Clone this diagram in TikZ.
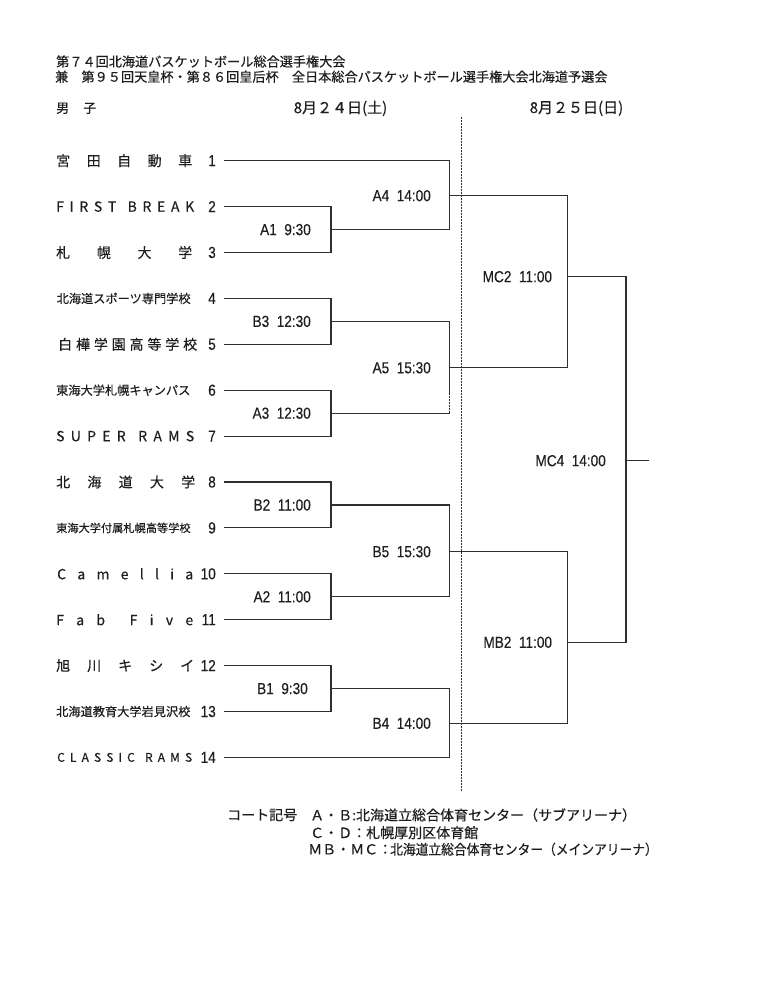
\documentclass[tikz,border=0pt]{standalone}
\usepackage{fontspec}
\usepackage{graphicx}
\setmainfont{Noto Sans CJK JP}[FakeBold=0.35]
\newfontfamily\labfont{Liberation Sans}[FakeBold=0.35]
\usetikzlibrary{calc}
\definecolor{ink}{HTML}{1e1e1e}
\definecolor{wirecol}{HTML}{303030}
\newcommand{\lbl}[1]{\scalebox{0.85}[1]{\labfont\fontsize{16}{16}\selectfont #1}}
\newcommand{\spreadname}[2]{\makebox[#1][s]{#2}}
\tikzset{
  team/.style={anchor=west, inner sep=0pt, text=ink, font=\fontsize{14}{14}\selectfont},
  smallteam/.style={anchor=west, inner sep=0pt, text=ink},
  seed/.style={anchor=east, inner sep=0pt, text=ink},
  matchlbl/.style={anchor=east, inner sep=0pt, text=ink},
  head/.style={anchor=west, inner sep=0pt, text=ink, font=\fontsize{13.15}{13.15}\selectfont},
  datelbl/.style={inner sep=0pt, text=ink, font=\fontsize{15}{15}\selectfont},
  foot/.style={anchor=west, inner sep=0pt, text=ink, font=\fontsize{14}{14}\selectfont},
  wire/.style={draw=wirecol, line width=1.1pt},
  dayline/.style={draw=wirecol, line width=0.9pt, dash pattern=on 2pt off 1pt},
}
\begin{document}
\begin{tikzpicture}[x=1pt,y=-1pt]
\path[use as bounding box, fill=white] (0,0) rectangle (772,1000);

% header
\node[head] (h1) at (56,61.5) {第７４回北海道バスケットボール総合選手権大会};
\node[head] (h2) at (55,76.7) {兼　第９５回天皇杯・第８６回皇后杯　全日本総合バスケットボール選手権大会北海道予選会};
\node[anchor=west, inner sep=0pt, text=ink, font=\fontsize{13}{13}\selectfont] (sex) at (56,108.3) {男\hspace{14pt}子};
\node[datelbl] (d1) at (340.5,108.3) {8月２４日(土)};
\node[datelbl] (d2) at (576.5,108.3) {8月２５日(日)};

% day separator
\coordinate (sepT) at (461.7,117);
\coordinate (sepB) at (461.7,792);
\draw[dayline] (sepT) -- (sepB);

% team names
\foreach \i in {1,...,14} {
  \coordinate (t\i) at (224,{160.7+(\i-1)*45.9});
  \node[seed] (s\i) at (216,{160.7+(\i-1)*45.9}) {\lbl{\i}};
}
\node[team] (n1) at (56,160.7) {\spreadname{136pt}{宮\hfill 田\hfill 自\hfill 動\hfill 車}};
\node[team] (n2) at (56,206.6) {\spreadname{138pt}{F\hfill I\hfill R\hfill S\hfill T\hfill\hfill B\hfill R\hfill E\hfill A\hfill K}};
\node[team] (n3) at (56,252.5) {\spreadname{136pt}{札\hfill 幌\hfill 大\hfill 学}};
\node[smallteam, font=\fontsize{12.2}{12.2}\selectfont] (n4) at (56.5,298.4) {北海道スポーツ専門学校};
\node[team] (n5) at (58,344.3) {\spreadname{139pt}{白\hfill 樺\hfill 学\hfill 園\hfill 高\hfill 等\hfill 学\hfill 校}};
\node[smallteam, font=\fontsize{12.2}{12.2}\selectfont] (n6) at (56,390.2) {東海大学札幌キャンパス};
\node[team] (n7) at (56,436.1) {\spreadname{138pt}{S\hfill U\hfill P\hfill E\hfill R\hfill\hfill R\hfill A\hfill M\hfill S}};
\node[team] (n8) at (56,482.0) {\spreadname{139pt}{北\hfill 海\hfill 道\hfill 大\hfill 学}};
\node[smallteam, font=\fontsize{11.2}{11.2}\selectfont] (n9) at (56,527.9) {東海大学付属札幌高等学校};
\node[team] (n10) at (57,573.8) {\spreadname{136pt}{C\hfill a\hfill m\hfill e\hfill l\hfill l\hfill i\hfill a}};
\node[team] (n11) at (56,619.7) {\spreadname{137pt}{F\hfill a\hfill b\hfill\hfill F\hfill i\hfill v\hfill e}};
\node[team] (n12) at (56,665.6) {\spreadname{138pt}{旭\hfill 川\hfill キ\hfill シ\hfill イ}};
\node[smallteam, font=\fontsize{12.2}{12.2}\selectfont] (n13) at (56,711.5) {北海道教育大学岩見沢校};
\node[team, font=\fontsize{12}{12}\selectfont] (n14) at (57,757.4) {\spreadname{135pt}{C\hfill L\hfill A\hfill S\hfill S\hfill I\hfill C\hfill\hfill R\hfill A\hfill M\hfill S}};

% match junctions
\coordinate (A1) at (331,229.6);
\coordinate (B3) at (331,321.4);
\coordinate (A3) at (331,413.2);
\coordinate (B2) at (331,505.0);
\coordinate (A2) at (331,596.8);
\coordinate (B1) at (331,688.6);
\coordinate (A4) at (449.5,195.7);
\coordinate (A5) at (449.5,367.8);
\coordinate (A5d) at (449.5,392);
\coordinate (A5e) at (449.5,413.2);
\coordinate (B5) at (449.5,551.7);
\coordinate (B4) at (449.5,723.3);
\coordinate (MC2) at (567.2,276.7);
\coordinate (MB2) at (567.2,642.3);
\coordinate (MC4) at (626,460.7);
\coordinate (fin) at (649.3,460.7);

% first round
\draw[wire] (t2) -| (A1) |- (t3);
\draw[wire] (t4) -| (B3) |- (t5);
\draw[wire] (t6) -| (A3) |- (t7);
\draw[wire] (t8) -| (B2) |- (t9);
\draw[wire] (t10) -| (A2) |- (t11);
\draw[wire] (t12) -| (B1) |- (t13);
% second round
\draw[wire] (t1) -| (A4) |- (A1);
\draw[wire] (B3) -| (A5) -- (A5d);
\draw[wire] (A3) -- (A5e);
\draw[dayline] (A5e) -- (A5d);
\draw[wire] (B2) -| (B5) |- (A2);
\draw[wire] (B1) -| (B4) |- (t14);
% semi and final
\draw[wire] (A4) -| (MC2) |- (A5);
\draw[wire] (B5) -| (MB2) |- (B4);
\draw[wire] (MC2) -| (MC4) |- (MB2);
\draw[wire] (MC4) -- (fin);

% match labels
\node[matchlbl] (lA1) at ([xshift=-20pt]A1) {\lbl{A1\ \ 9:30}};
\node[matchlbl] (lB3) at ([xshift=-20pt]B3) {\lbl{B3\ \ 12:30}};
\node[matchlbl] (lA3) at ([xshift=-20pt]A3) {\lbl{A3\ \ 12:30}};
\node[matchlbl] (lB2) at ([xshift=-20pt]B2) {\lbl{B2\ \ 11:00}};
\node[matchlbl] (lA2) at ([xshift=-20pt]A2) {\lbl{A2\ \ 11:00}};
\node[matchlbl] (lB1) at ([xshift=-23pt]B1) {\lbl{B1\ \ 9:30}};
\node[matchlbl] (lA4) at ([xshift=-18.5pt]A4) {\lbl{A4\ \ 14:00}};
\node[matchlbl] (lA5) at ([xshift=-18.5pt]A5) {\lbl{A5\ \ 15:30}};
\node[matchlbl] (lB5) at ([xshift=-18.5pt]B5) {\lbl{B5\ \ 15:30}};
\node[matchlbl] (lB4) at ([xshift=-18.5pt]B4) {\lbl{B4\ \ 14:00}};
\node[matchlbl] (lMC2) at ([xshift=-15pt]MC2) {\lbl{MC2\ \ 11:00}};
\node[matchlbl] (lMB2) at ([xshift=-15pt]MB2) {\lbl{MB2\ \ 11:00}};
\node[matchlbl] (lMC4) at ([xshift=-20pt]MC4) {\lbl{MC4\ \ 14:00}};

% footer
\node[foot] (f0) at (227,815) {コート記号};
\node[foot] (f1) at (310,815) {Ａ・Ｂ:北海道立総合体育センター（サブアリーナ）};
\node[foot] (f2) at (310,832.7) {Ｃ・Ｄ：札幌厚別区体育館};
\node[foot] (f3a) at (308,849.3) {ＭＢ・ＭＣ：};
\node[foot] (f3b) at (390,849.3) {\scalebox{0.91}[1]{北海道立総合体育センター（メインアリーナ）}};
\end{tikzpicture}
\end{document}
